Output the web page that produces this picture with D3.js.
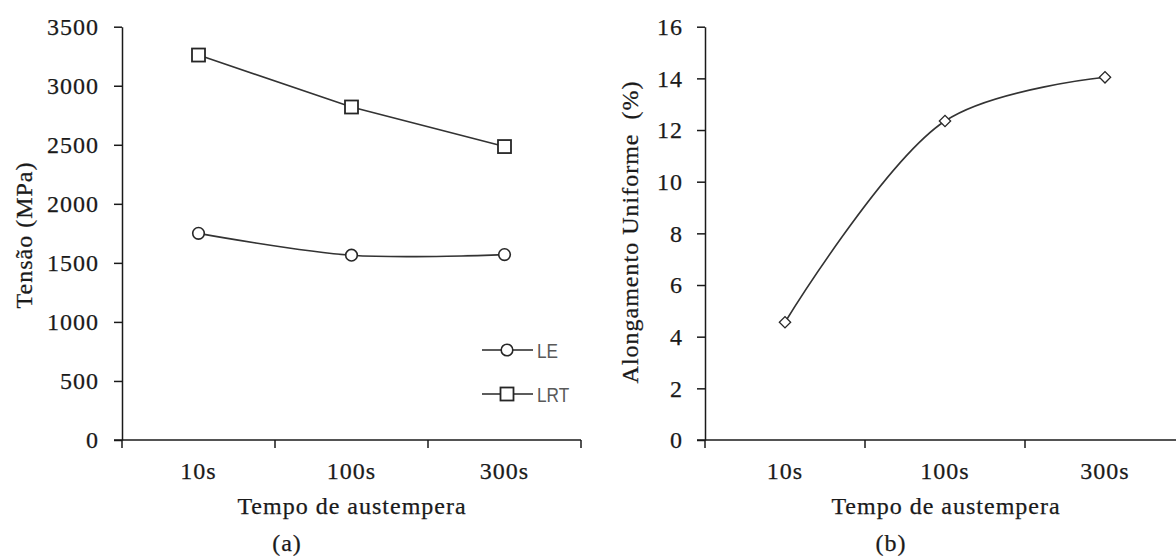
<!DOCTYPE html>
<html lang="pt">
<head>
  <meta charset="UTF-8">
  <title>Tensão e Alongamento vs Tempo de austempera</title>
  <script src="https://d3js.org/d3.v7.min.js"></script>
  <style>
    body {
      margin: 0;
      padding: 0;
      background: #fff;
    }
    svg text {
      font-family: "Liberation Serif", "Times New Roman", serif;
      font-size: 24px;
      letter-spacing: 1px;
      fill: #1a1a1a;
      stroke: #1a1a1a;
      stroke-width: 0.25px;
    }
    .domain, .tick line {
      stroke: #1a1a1a;
      stroke-width: 1.5px;
    }
    svg text.legend-text {
      font-family: "Liberation Sans", Arial, sans-serif;
      font-size: 21px;
      letter-spacing: 0;
      fill: #595959;
      stroke: none;
    }
  </style>
</head>
<body>
  <div id="chart"></div>

  <script>
    const categories = ["10s", "100s", "300s"];
    const leValues = [1750, 1565, 1570];
    const lrtValues = [3260, 2820, 2485];
    const alongValues = [4.56, 12.35, 14.04];
    const yTicksA = [0, 500, 1000, 1500, 2000, 2500, 3000, 3500];
    const yTicksB = [0, 2, 4, 6, 8, 10, 12, 14, 16];

    const W = 1176, H = 556;
    const plotTop = 26.7, plotBottom = 440;

    const svg = d3.select("#chart")
                  .append("svg")
                  .attr("width", W)
                  .attr("height", H);

    // ---------- panel (a) ----------
    const xA = d3.scaleBand().domain(categories).range([122, 581]).padding(0);
    const yA = d3.scaleLinear().domain([0, 3500]).range([plotBottom, plotTop]);

    svg.append("g")
       .attr("transform", "translate(122,0)")
       .call(d3.axisLeft(yA).tickValues(yTicksA).tickFormat(d3.format("d"))
               .tickSize(8).tickSizeOuter(0).tickPadding(15));

    drawXAxis(xA, 581);

    const cx = (d, i) => xA(categories[i]) + xA.bandwidth() / 2;

    // LRT is drawn straight, LE smoothed (as in the original)
    svg.append("path").datum(lrtValues)
       .attr("d", d3.line().x(cx).y(d => yA(d)))
       .attr("fill", "none").attr("stroke", "#333").attr("stroke-width", 1.6);
    svg.append("path").datum(leValues)
       .attr("d", d3.line().x(cx).y(d => yA(d)).curve(d3.curveCatmullRom))
       .attr("fill", "none").attr("stroke", "#333").attr("stroke-width", 1.6);

    svg.selectAll(".sq")
       .data(lrtValues)
       .enter()
       .append("rect")
       .attr("class", "sq")
       .attr("x", (d, i) => cx(d, i) - 6.5)
       .attr("y", d => yA(d) - 6.5)
       .attr("width", 13).attr("height", 13)
       .attr("fill", "#fff").attr("stroke", "#262626").attr("stroke-width", 1.8);

    svg.selectAll(".circ")
       .data(leValues)
       .enter()
       .append("circle")
       .attr("class", "circ")
       .attr("cx", cx)
       .attr("cy", d => yA(d))
       .attr("r", 5.8)
       .attr("fill", "#fff").attr("stroke", "#262626").attr("stroke-width", 1.6);

    // legend
    const legend = [{ name: "LE", y: 350 }, { name: "LRT", y: 394 }];
    legend.forEach(l => {
      svg.append("line").attr("x1", 482).attr("x2", 533).attr("y1", l.y).attr("y2", l.y)
         .attr("stroke", "#262626").attr("stroke-width", 1.6);
      if (l.name === "LE") {
        svg.append("circle").attr("cx", 507).attr("cy", l.y).attr("r", 5.8)
           .attr("fill", "#fff").attr("stroke", "#262626").attr("stroke-width", 1.6);
      } else {
        svg.append("rect").attr("x", 500.5).attr("y", l.y - 6.5).attr("width", 13).attr("height", 13)
           .attr("fill", "#fff").attr("stroke", "#262626").attr("stroke-width", 1.8);
      }
      svg.append("text").attr("class", "legend-text")
         .attr("transform", `translate(537,${l.y}) scale(0.82,1)`)
         .attr("dy", "0.36em").text(l.name);
    });

    svg.append("text")
       .attr("transform", "translate(32,235) rotate(-90)")
       .attr("text-anchor", "middle")
       .text("Tensão (MPa)");

    svg.append("text").attr("x", 352).attr("y", 514).attr("text-anchor", "middle").text("Tempo de austempera");
    svg.append("text").attr("x", 287).attr("y", 551).attr("text-anchor", "middle").text("(a)");

    // ---------- panel (b) ----------
    const xB = d3.scaleBand().domain(categories).range([705, 1185]).padding(0);
    const yB = d3.scaleLinear().domain([0, 16]).range([plotBottom, plotTop]);

    svg.append("g")
       .attr("transform", "translate(705,0)")
       .call(d3.axisLeft(yB).tickValues(yTicksB).tickSize(8).tickSizeOuter(0).tickPadding(14));

    drawXAxis(xB, 1185);

    const cxB = (d, i) => xB(categories[i]) + xB.bandwidth() / 2;

    svg.append("path").datum(alongValues)
       .attr("d", d3.line().x(cxB).y(d => yB(d)).curve(d3.curveCatmullRom))
       .attr("fill", "none").attr("stroke", "#333").attr("stroke-width", 1.6);

    svg.selectAll(".dia")
       .data(alongValues)
       .enter()
       .append("rect")
       .attr("class", "dia")
       .attr("x", -4).attr("y", -4).attr("width", 8).attr("height", 8)
       .attr("transform", (d, i) => `translate(${cxB(d, i)},${yB(d)}) rotate(45)`)
       .attr("fill", "#fff").attr("stroke", "#262626").attr("stroke-width", 1.3);

    svg.append("text")
       .attr("transform", "translate(638,232) rotate(-90)")
       .attr("text-anchor", "middle")
       .style("white-space", "pre")
       .text("Alongamento Uniforme  (%)");

    svg.append("text").attr("x", 946).attr("y", 514).attr("text-anchor", "middle").text("Tempo de austempera");
    svg.append("text").attr("x", 891).attr("y", 551).attr("text-anchor", "middle").text("(b)");

    function drawXAxis(x, end) {
      const x0 = x.range()[0];
      // axis line with category labels centred in the bands
      const g = svg.append("g").attr("transform", `translate(0,${plotBottom})`);
      g.call(d3.axisBottom(x).tickSize(0).tickSizeOuter(0).tickPadding(0));
      g.select(".domain").attr("d", `M${x0 - 8},0H${end}`);
      g.selectAll(".tick text").attr("y", 39).attr("dy", 0);
      // boundary ticks between bands
      const edges = categories.map(c => x(c)).concat([end]);
      g.selectAll(".edge")
       .data(edges)
       .enter()
       .append("line")
       .attr("class", "edge")
       .attr("x1", d => d).attr("x2", d => d)
       .attr("y1", 0).attr("y2", 8)
       .attr("stroke", "#1a1a1a").attr("stroke-width", 1.5);
    }
  </script>
</body>
</html>
